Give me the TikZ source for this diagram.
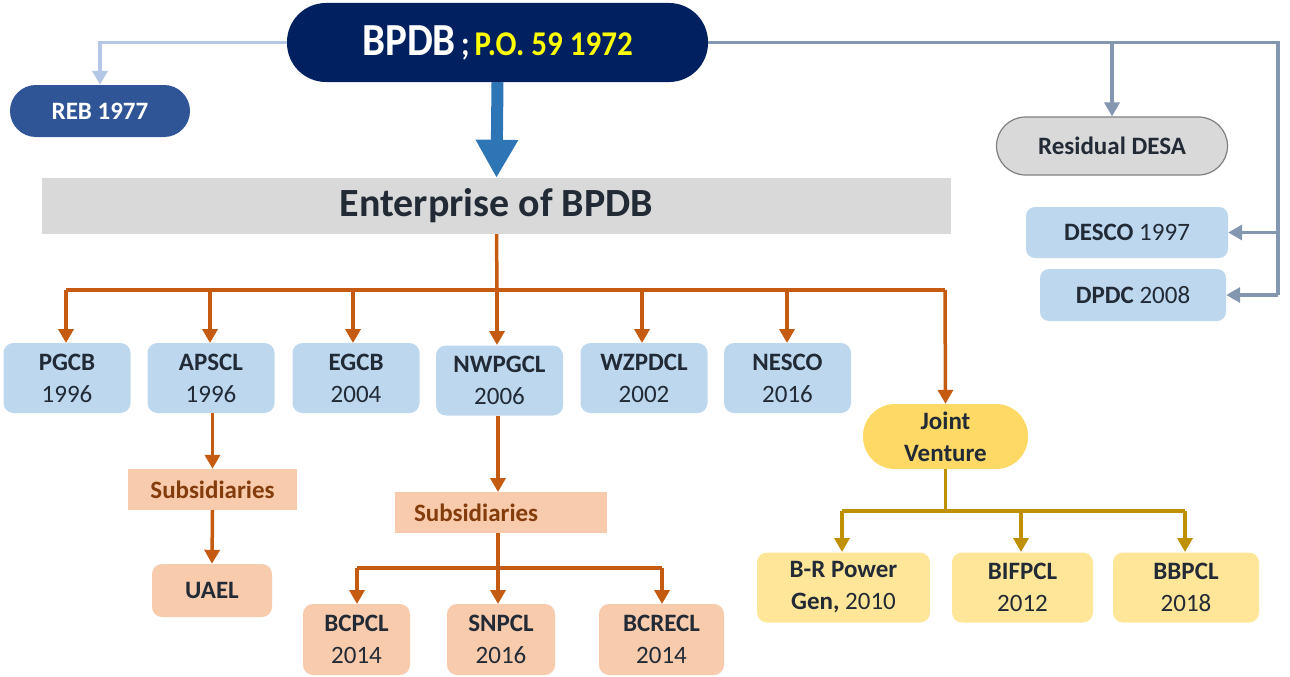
\documentclass[tikz,border=0pt]{standalone}
\usepackage{fontspec}
\setmainfont{Carlito}
\usetikzlibrary{arrows.meta}
\definecolor{navy}{HTML}{002060}
\definecolor{rebblue}{HTML}{2F5597}
\definecolor{lightarr}{HTML}{B4C7E7}
\definecolor{bigarr}{HTML}{2E75B6}
\definecolor{greyfill}{HTML}{D9D9D9}
\definecolor{greyline}{HTML}{7F7F7F}
\definecolor{slate}{HTML}{8497B0}
\definecolor{orangeline}{HTML}{C55A11}
\definecolor{boxblue}{HTML}{BDD7EE}
\definecolor{peachfill}{HTML}{F8CBAD}
\definecolor{browntext}{HTML}{843C0C}
\definecolor{jvfill}{HTML}{FFD966}
\definecolor{lightyellow}{HTML}{FFE699}
\definecolor{goldline}{HTML}{BF9000}
\definecolor{txt}{HTML}{222A35}
\definecolor{brightyellow}{HTML}{FFFF00}
\tikzset{
  base/.style={font=\fontsize{25}{32}\selectfont, text=txt, align=center, inner sep=0pt},
  bluebox/.style={base, fill=boxblue, rounded corners=10pt, minimum width=127pt, minimum height=70pt},
  sidebox/.style={base, fill=boxblue, rounded corners=9pt, minimum height=51pt},
  peachbox/.style={base, fill=peachfill, rounded corners=10pt},
  subsbox/.style={base, fill=peachfill, text=browntext, minimum height=41pt},
  ybox/.style={base, fill=lightyellow, rounded corners=10pt, minimum height=70pt},
  orline/.style={draw=orangeline, line width=3.5pt},
  orarrow/.style={orline, -{Triangle[width=15pt,length=14pt]}},
  goline/.style={draw=goldline, line width=3.5pt},
  goarrow/.style={goline, -{Triangle[width=15pt,length=14pt]}},
  slline/.style={draw=slate, line width=3.5pt},
  slarrow/.style={slline, -{Triangle[width=15pt,length=14pt]}},
}
\begin{document}
\begin{tikzpicture}[x=1pt,y=-1pt]
\path[use as bounding box] (0,0) rectangle (1290,677);

% top
\node[base, fill=navy, text=white, rounded corners=39pt, minimum width=421pt, minimum height=79pt] (bpdb) at (497.5,42.5)
  {\scalebox{1}[1.12]{{\fontsize{41}{44}\selectfont\textbf{BPDB}}{\fontsize{31}{34}\selectfont\textbf{\,;\,}\textcolor{brightyellow}{\textbf{P.O. 59 1972}}}}};
\node[base, fill=rebblue, text=white, rounded corners=26pt, minimum width=180pt, minimum height=52pt] (reb) at (100,111) {\textbf{REB 1977}};
\node[base, fill=greyfill, draw=greyline, line width=1.2pt, rounded corners=29pt, minimum width=231pt, minimum height=58pt] (desa) at (1112,146) {\textbf{Residual DESA}};
\node[sidebox, minimum width=202pt] (desco) at (1127,232.5) {\textbf{DESCO} 1997};
\node[sidebox, minimum width=186pt, minimum height=52pt] (dpdc) at (1133,295) {\textbf{DPDC} 2008};
\node[base, fill=greyfill, minimum width=909pt, minimum height=56pt, font=\fontsize{40}{44}\selectfont, text=txt] (ent) at (496.5,206) {\textbf{Enterprise of BPDB}};

% connectors top
\draw[draw=lightarr, line width=3.5pt, -{Triangle[width=15pt,length=14pt]}] (bpdb.west) -| (reb.north);
\draw[draw=bigarr, line width=12pt, -{Triangle[width=40pt,length=38pt]}] (bpdb.south) -- (ent.north);
\coordinate (rtop) at (1278,42.5);
\coordinate (rmid) at (1278,232.5);
\coordinate (desatop) at (1112,42.5);
\draw[slline] (bpdb.east) -- (rtop) -- (rtop |- dpdc.east);
\draw[slarrow] (rtop |- dpdc.east) -- (dpdc.east);
\draw[slarrow] (rmid) -- (desco.east);
\draw[slarrow] (desatop) -- (desa.north);

% level 2 boxes
\node[bluebox] (pgcb) at (67,378) {\textbf{PGCB}\\1996};
\node[bluebox] (apscl) at (211,378) {\textbf{APSCL}\\1996};
\node[bluebox] (egcb) at (356,378) {\textbf{EGCB}\\2004};
\node[bluebox] (nwpgcl) at (499.5,380.5) {\textbf{NWPGCL}\\2006};
\node[bluebox] (wzpdcl) at (644,378) {\textbf{WZPDCL}\\2002};
\node[bluebox] (nesco) at (787.5,378) {\textbf{NESCO}\\2016};
\node[base, fill=jvfill, rounded corners=32pt, minimum width=165pt, minimum height=65pt] (jv) at (945.5,436.5) {\textbf{Joint}\\\textbf{Venture}};

\coordinate (bus) at (497,290);
\draw[orline] (ent.south) -- (bus);
\draw[orline] (66,290) -- (945,290);
\draw[orarrow] (66,290) -- (66,343);
\draw[orarrow] (210,290) -- (210,343);
\draw[orarrow] (353,290) -- (353,343);
\draw[orarrow] (497,290) -- (497,345);
\draw[orarrow] (642,290) -- (642,343);
\draw[orarrow] (787,290) -- (787,343);
\draw[orarrow] (945,290) -- (jv.north);

% APSCL branch
\node[subsbox, minimum width=169pt] (subs1) at (212.5,489.5) {\textbf{Subsidiaries}};
\node[peachbox, minimum width=120pt, minimum height=53pt] (uael) at (212,590.5) {\textbf{UAEL}};
\draw[orarrow] (apscl.south -| subs1.north) -- (subs1.north);
\draw[orarrow] (subs1.south) -- (uael.north);

% NWPGCL branch
\node[subsbox, minimum width=212pt, text width=174pt, align=left, inner xsep=19pt] (subs2) at (501,512.5) {\textbf{Subsidiaries}};
\node[peachbox, minimum width=107pt, minimum height=71pt] (bcpcl) at (356.5,639.5) {\textbf{BCPCL}\\2014};
\node[peachbox, minimum width=108pt, minimum height=71pt] (snpcl) at (501,639.5) {\textbf{SNPCL}\\2016};
\node[peachbox, minimum width=125pt, minimum height=71pt] (bcrecl) at (661.5,639.5) {\textbf{BCRECL}\\2014};
\draw[orarrow] (498,416) -- (498,492);
\coordinate (bus2) at (498,568);
\draw[orline] (498,533) -- (bus2);
\draw[orline] (357,568) -- (662,568);
\draw[orarrow] (357,568) -- (357,604);
\draw[orarrow] (bus2) -- (498,604);
\draw[orarrow] (662,568) -- (662,604);

% Joint venture branch
\node[ybox, minimum width=173pt] (br) at (843.5,587.5) {\textbf{B-R Power}\\\textbf{Gen,} 2010};
\node[ybox, minimum width=141pt] (bifpcl) at (1022.5,587.5) {\textbf{BIFPCL}\\2012};
\node[ybox, minimum width=146pt] (bbpcl) at (1186,587.5) {\textbf{BBPCL}\\2018};
\coordinate (bus3) at (945.5,511);
\draw[goline] (jv.south) -- (bus3);
\draw[goline] (842,511) -- (1185,511);
\draw[goarrow] (842,511) -- (842,552);
\draw[goarrow] (1021,511) -- (1021,552);
\draw[goarrow] (1185,511) -- (1185,552);
\end{tikzpicture}
\end{document}
